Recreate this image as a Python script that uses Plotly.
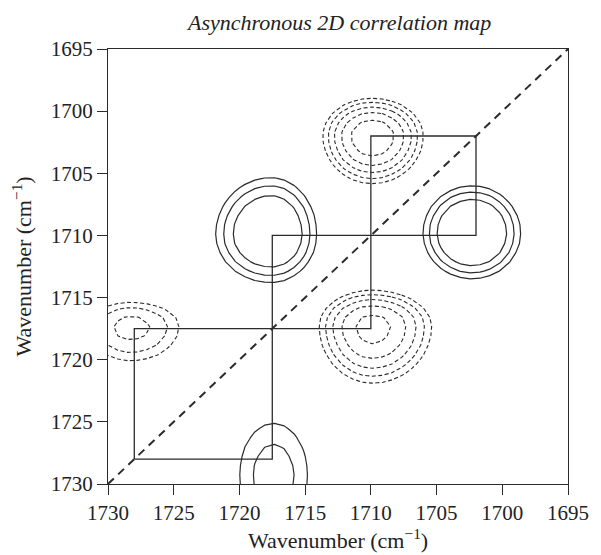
import numpy as np
import plotly.graph_objects as go

# Axis ticks (wavenumber, cm-1)
tick_vals = [1695, 1700, 1705, 1710, 1715, 1720, 1725, 1730]

# Correlation peaks of the asynchronous map (x = nu1, y = nu2)
# sign: +1 positive (solid), -1 negative (dashed)
peak_x = [1717.6, 1702.3, 1717.4, 1709.9, 1709.9, 1728.3]
peak_y = [1709.9, 1709.8, 1729.3, 1702.0, 1717.3, 1717.3]
peak_sign = [1, 1, 1, -1, -1, -1]
peak_logamp = [1.88, 2.05, 0.78, 2.45, 2.22, 1.20]
# widths toward higher / lower wavenumber on each axis
width_x_high = [2.17, 1.85, 2.08, 1.70, 1.92, 2.05]
width_x_low = [1.80, 1.83, 2.08, 1.76, 2.15, 2.39]
width_y_low = [2.35, 1.88, 3.36, 1.38, 1.38, 1.26]
width_y_high = [2.01, 1.83, 3.36, 1.74, 2.18, 1.81]

# Band positions linked through the diagonal
link_x = [1728, 1728, 1710, 1710, 1702, 1702, 1717.5, 1717.5, 1728]
link_y = [1728, 1717.5, 1717.5, 1702, 1702, 1710, 1710, 1728, 1728]

# Log-spaced contour levels
pos_levels = dict(start=0.0, end=1.0, size=0.5)
neg_levels = dict(start=0.0, end=2.0, size=0.5)

# Evaluate the correlation intensity on the spectral grid (0.75 cm-1 steps)
grid = np.linspace(1695.0, 1730.0, 48)
X, Y = np.meshgrid(grid, grid)
field = np.zeros_like(X)
for cx, cy, s, a, wxh, wxl, wyl, wyh in zip(peak_x, peak_y, peak_sign, peak_logamp,
                                            width_x_high, width_x_low, width_y_low, width_y_high):
    sx = np.where(X > cx, wxh, wxl)
    sy = np.where(Y < cy, wyl, wyh)
    field += s * np.exp(a) * np.exp(-0.5 * (((X - cx) / sx) ** 2 + ((Y - cy) / sy) ** 2))

floor = 1e-9
z_pos = np.log(np.maximum(field, floor))
z_neg = np.log(np.maximum(-field, floor))

ink = "#2b2b2b"
mono = [[0, ink], [1, ink]]
font_family = "Liberation Serif"

fig = go.Figure()

fig.add_trace(go.Contour(
    x=grid, y=grid, z=z_pos,
    contours=dict(coloring="lines", showlabels=False, **pos_levels),
    colorscale=mono, showscale=False,
    line=dict(width=1.2, smoothing=0),
    hoverinfo="skip",
))
fig.add_trace(go.Contour(
    x=grid, y=grid, z=z_neg,
    contours=dict(coloring="lines", showlabels=False, **neg_levels),
    colorscale=mono, showscale=False,
    line=dict(width=1.1, dash="4px,2.5px", smoothing=0),
    hoverinfo="skip",
))

# Diagonal
fig.add_trace(go.Scatter(
    x=[tick_vals[-1], tick_vals[0]], y=[tick_vals[-1], tick_vals[0]],
    mode="lines", line=dict(color=ink, width=2, dash="8px,6px"),
    hoverinfo="skip", showlegend=False,
))

# Cross-peak connections
fig.add_trace(go.Scatter(
    x=link_x, y=link_y, mode="lines",
    line=dict(color=ink, width=1.3),
    hoverinfo="skip", showlegend=False,
))

axis_style = dict(
    tickmode="array", tickvals=tick_vals,
    ticks="outside", ticklen=10, tickwidth=1.3, tickcolor=ink,
    showline=True, linecolor=ink, linewidth=1.3, mirror=True,
    showgrid=False, zeroline=False,
    tickfont=dict(family=font_family, size=21, color="#222"),
)

fig.update_layout(
    width=601, height=555,
    margin=dict(l=108, r=23, t=49, b=71),
    paper_bgcolor="white", plot_bgcolor="white",
    showlegend=False,
    font=dict(family=font_family),
    xaxis=dict(range=[1730, 1695], **axis_style),
    yaxis=dict(range=[1730, 1695], **axis_style),
    annotations=[
        dict(text="<i>Asynchronous 2D correlation map</i>", xref="paper", yref="paper",
             x=0.5, y=1, yshift=27, xanchor="center", yanchor="middle", showarrow=False,
             font=dict(family=font_family, size=22, color="#222")),
        dict(text="Wavenumber (cm<sup>\u22121</sup>)", xref="paper", yref="paper",
             x=0.5, y=0, yshift=-71, xanchor="center", yanchor="bottom", showarrow=False,
             font=dict(family=font_family, size=22, color="#222")),
        dict(text="Wavenumber (cm<sup>\u22121</sup>)", xref="paper", yref="paper",
             x=0, y=0.5, xshift=-87, xanchor="center", yanchor="middle", showarrow=False,
             textangle=-90,
             font=dict(family=font_family, size=22, color="#222")),
    ],
)

fig.write_html("out.html")
